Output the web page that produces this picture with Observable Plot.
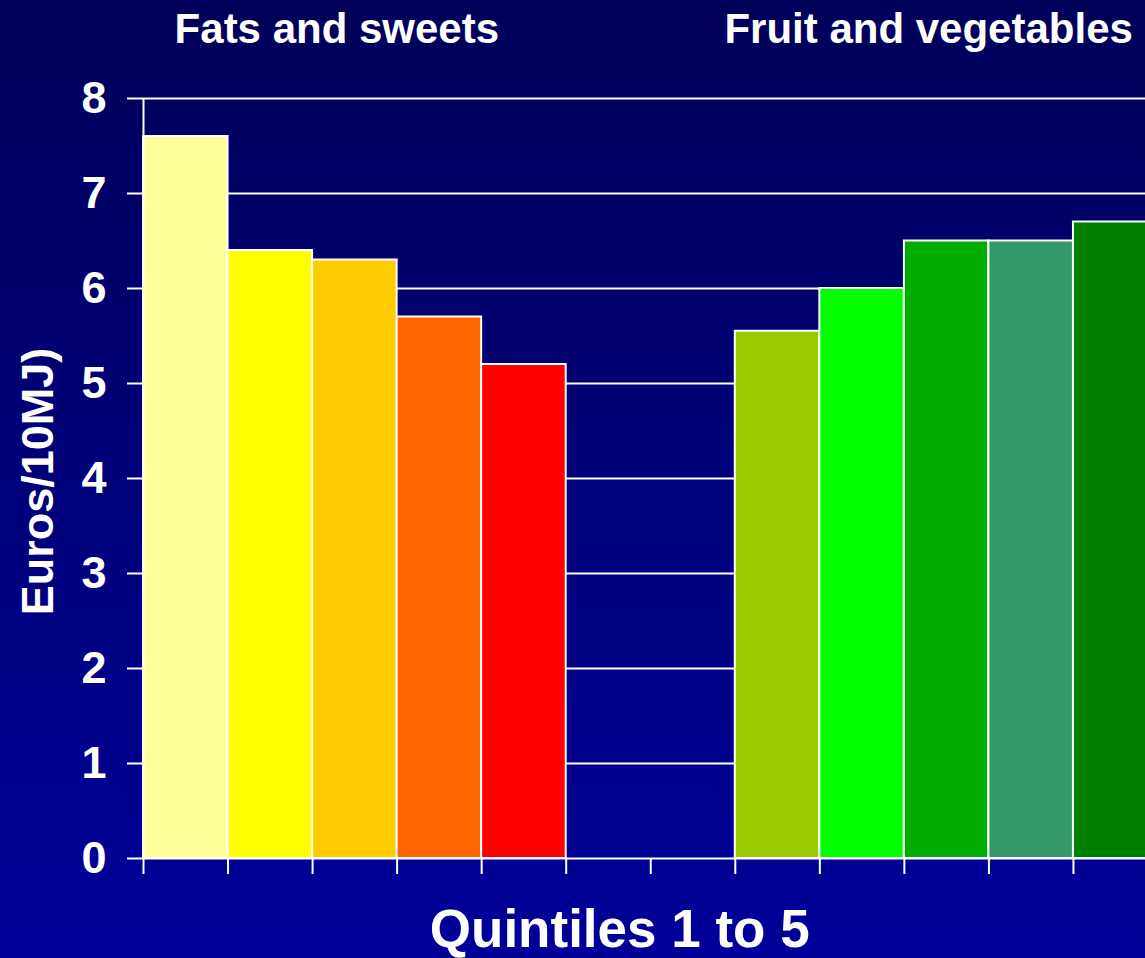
<!DOCTYPE html>
<html>
<head>
<meta charset="utf-8">
<script src="https://cdn.jsdelivr.net/npm/d3@7"></script>
<script src="https://cdn.jsdelivr.net/npm/@observablehq/plot@0.6"></script>
<style>
  html, body { margin: 0; padding: 0; overflow: hidden; width: 1145px; height: 958px;
    background: linear-gradient(to bottom, #00005A 0%, #000099 100%); }
  #chart svg { display: block; }
</style>
</head>
<body>
<div id="chart"></div>
<script>
const groups = ["Fats and sweets", "Fruit and vegetables"];
const quintiles = [1, 2, 3, 4, 5];
const fatsSweets = [7.6, 6.4, 6.3, 5.7, 5.2];
const fruitVeg = [5.55, 6.0, 6.5, 6.5, 6.7];
const fatsColors = ["#FFFF99", "#FFFF00", "#FFCC00", "#FF6600", "#FF0000"];
const fruitColors = ["#99CC00", "#00FF00", "#00AD00", "#339966", "#008000"];
const yTicks = [0, 1, 2, 3, 4, 5, 6, 7, 8];
const slotTicks = d3.range(0, 13);
const yLabel = "Euros/10MJ)";
const xLabel = "Quintiles 1 to 5";

const groupSlot = 7; // 5 bars + 2 empty slots per group
const rows = [];
[fatsSweets, fruitVeg].forEach((vals, g) => {
  const cols = g === 0 ? fatsColors : fruitColors;
  vals.forEach((v, i) => rows.push({
    group: groups[g], quintile: quintiles[i], value: v, color: cols[i],
    slot: g * groupSlot + i
  }));
});

const font = "'Liberation Sans', Arial, sans-serif";

const chart = Plot.plot({
  width: 1160,
  height: 958,
  marginLeft: 143,
  marginRight: 2.5,
  marginTop: 98,
  marginBottom: 100,
  style: { background: "transparent", color: "white", fontFamily: font, fontWeight: "bold", maxWidth: "none", overflow: "visible" },
  x: { domain: [0, 12], axis: null },
  y: { domain: [0, 8], axis: null },
  marks: [
    Plot.ruleY(yTicks.filter(d => d > 0), { stroke: "white", strokeWidth: 2 }),
    Plot.rectY(rows, {
      x1: "slot", x2: d => d.slot + 1, y1: 0, y2: "value",
      fill: "color", stroke: "white", strokeWidth: 2
    }),
    Plot.axisY(yTicks, {
      tickSize: 16, tickPadding: 21, stroke: "white", strokeWidth: 2,
      tickFormat: d3.format("d"),
      fontSize: 45, fontWeight: "bold", fill: "white", label: null
    }),
    Plot.axisX(slotTicks, {
      tickSize: 16, tickFormat: () => "", stroke: "white", strokeWidth: 2, label: null
    }),
    Plot.ruleY([0], { stroke: "white", strokeWidth: 2 }),
    Plot.ruleX([0], { y1: 0, y2: 8, stroke: "white", strokeWidth: 2 }),
    Plot.text(groups, {
      x: (d, i) => i * groupSlot + 2.5, frameAnchor: "top", lineAnchor: "bottom",
      dy: -56, dx: -18, text: d => d, fill: "white", fontSize: 42, fontWeight: "bold"
    }),
    Plot.text([yLabel], {
      frameAnchor: "left", textAnchor: "middle", rotate: -90, dx: -105, dy: 3, text: d => d,
      fill: "white", fontSize: 45, fontWeight: "bold"
    }),
    Plot.text([xLabel], {
      frameAnchor: "bottom", lineAnchor: "bottom", dy: 88, dx: -31, text: d => d,
      fill: "white", fontSize: 53, fontWeight: "bold"
    })
  ]
});
document.getElementById("chart").appendChild(chart);
</script>
</body>
</html>
